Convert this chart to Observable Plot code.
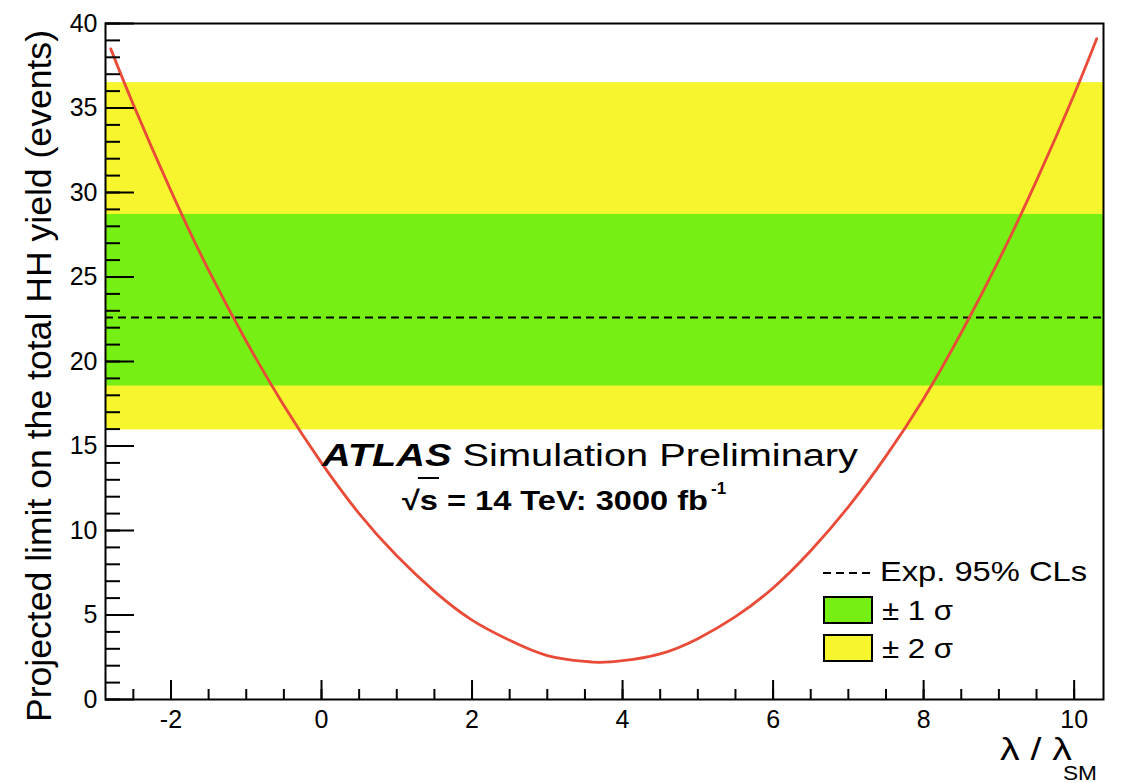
<!DOCTYPE html>
<html>
<head>
<meta charset="utf-8">
<script src="https://cdn.jsdelivr.net/npm/d3@7"></script>
<script src="https://cdn.jsdelivr.net/npm/@observablehq/plot@0.6"></script>
<style>
  body { margin: 0; background: #fff; }
  svg { display: block; }
</style>
</head>
<body>
<div id="chart"></div>
<script>
// Projected limit on the total HH yield versus the Higgs self-coupling ratio
const lambda = [-2.8, -2.5, -2, -1.5, -1, -0.5, 0, 0.5, 1, 1.5, 2, 2.5, 3, 3.5, 3.7,
                4, 4.5, 5, 5.5, 6, 6.5, 7, 7.5, 8, 8.5, 9, 9.5, 10, 10.3];
const yieldLimit = [38.5, 35.2, 30.1, 25.4, 21.2, 17.4, 14.0, 11.0, 8.5, 6.4, 4.7, 3.5, 2.6, 2.25, 2.2,
                    2.3, 2.7, 3.6, 4.9, 6.6, 8.8, 11.4, 14.4, 17.8, 21.7, 26.0, 30.7, 35.8, 39.1];

// Expected 95% CLs limit and its uncertainty bands
const expectedLimit = 22.6;
const sigma1 = [18.55, 28.7];
const sigma2 = [15.95, 36.5];

// Axis ticks
const xTicks = [-2, 0, 2, 4, 6, 8, 10];
const xMinor = d3.range(-2.5, 10.01, 0.5);
const yTicks = [0, 5, 10, 15, 20, 25, 30, 35, 40];
const yMinor = d3.range(0, 40.01, 1);

const bands = [
  {lo: sigma2[0], hi: sigma2[1], fill: "#f6f52e"},
  {lo: sigma1[0], hi: sigma1[1], fill: "#76f014"}
];
const curve = lambda.map((x, i) => ({x, y: yieldLimit[i]}));

const FONT = "'Liberation Sans', Arial, Helvetica, sans-serif";

const plot = Plot.plot({
  width: 1121,
  height: 783,
  marginLeft: 105,
  marginRight: 18,
  marginTop: 23,
  marginBottom: 84,
  style: {fontFamily: FONT, fontSize: "25px", color: "black", background: "white"},
  x: {domain: [-2.87, 10.39], axis: null},
  y: {domain: [0, 40], axis: null},
  marks: [
    Plot.rect(bands, {y1: "lo", y2: "hi", fill: "fill"}),
    Plot.ruleY([expectedLimit], {stroke: "black", strokeWidth: 2, strokeDasharray: "8,5"}),
    Plot.line(curve, {x: "x", y: "y", stroke: "#ea4b38", strokeWidth: 2.8, curve: "natural"}),
    // ticks drawn inward, ROOT style
    Plot.axisY(yMinor, {tickSize: -15, strokeWidth: 2, fill: "none"}),
    Plot.axisY(yTicks, {tickSize: -29, strokeWidth: 2, fill: "none"}),
    Plot.axisY(yTicks, {tickSize: 0, tickPadding: 8, fontSize: 25, label: null, tickFormat: d => String(d)}),
    Plot.axisX(xMinor, {tickSize: -10, strokeWidth: 2, fill: "none"}),
    Plot.axisX(xTicks, {tickSize: -19, strokeWidth: 2, fill: "none"}),
    Plot.axisX(xTicks, {tickSize: 0, tickPadding: 11, fontSize: 25, label: null, tickFormat: d => String(d)}),
    Plot.frame({stroke: "black", strokeWidth: 2})
  ]
});

document.getElementById("chart").appendChild(plot);
const svg = d3.select(plot);

function label(x, y, size, text, opts = {}) {
  const t = svg.append("text")
    .attr("x", x).attr("y", y)
    .attr("text-anchor", opts.anchor || "start")
    .attr("font-family", FONT).attr("font-size", size);
  if (opts.weight) t.attr("font-weight", opts.weight);
  if (opts.length) t.attr("textLength", opts.length).attr("lengthAdjust", "spacingAndGlyphs");
  if (text != null) t.text(text);
  return t;
}

// Axis titles
label(0, 0, 35, "Projected limit on the total HH yield (events)", {anchor: "middle", length: 692})
  .attr("x", null).attr("y", null)
  .attr("transform", "translate(51,376) rotate(-90)");
label(1000, 760, 32, "λ / λ", {length: 72});
label(1063, 780, 20, "SM", {length: 34});

// Experiment label
const atlas = label(322, 466, 31, null, {length: 536});
atlas.append("tspan").attr("font-weight", "bold").attr("font-style", "italic").text("ATLAS");
atlas.append("tspan").text(" Simulation Preliminary");

const energy = label(402, 510, 27, "√s = 14 TeV: 3000 fb", {weight: "bold", length: 306});
// vinculum over the s
{
  const node = energy.node();
  const x0 = node.getStartPositionOfChar(1).x;
  const x1 = node.getEndPositionOfChar(1).x;
  svg.append("line")
    .attr("x1", x0 - 2).attr("x2", x1 + 1)
    .attr("y1", 478).attr("y2", 478)
    .attr("stroke", "black").attr("stroke-width", 2);
}
label(711, 494, 17, "-1", {weight: "bold"});

// Legend
svg.append("line")
  .attr("x1", 823).attr("x2", 873).attr("y1", 573).attr("y2", 573)
  .attr("stroke", "black").attr("stroke-width", 2).attr("stroke-dasharray", "8,5");
label(880, 581, 28, "Exp. 95% CLs", {length: 207});
[[bands[1].fill, 597, "± 1 σ", 620], [bands[0].fill, 635, "± 2 σ", 658]].forEach(([fill, y, text, base]) => {
  svg.append("rect").attr("x", 824).attr("y", y).attr("width", 48).attr("height", 26)
    .attr("fill", fill).attr("stroke", "black").attr("stroke-width", 2);
  label(882, base, 28, text, {length: 71});
});
</script>
</body>
</html>
